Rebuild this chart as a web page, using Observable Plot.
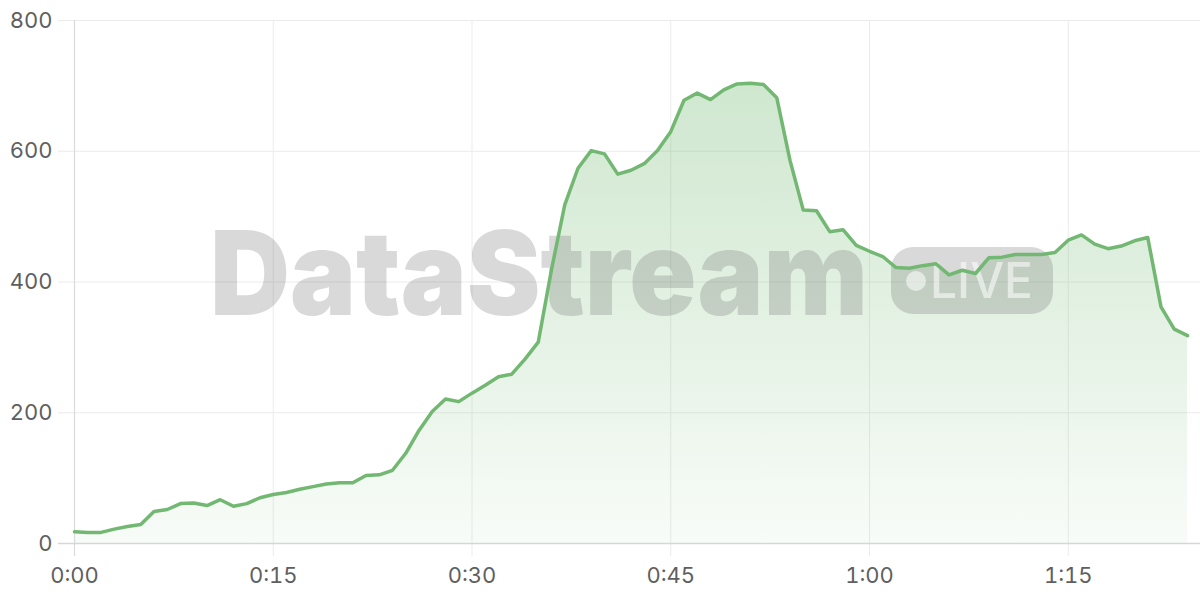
<!DOCTYPE html>
<html><head><meta charset="utf-8">
<script src="https://cdn.jsdelivr.net/npm/d3@7"></script>
<script src="https://cdn.jsdelivr.net/npm/@observablehq/plot@0.6"></script>
<style>
html,body{margin:0;padding:0;background:#fff;}
#chart{width:1200px;height:600px;}
</style></head><body><div id="chart"></div>
<script>
const minutes = [0,1,2,3,4,5,6,7,8,9,10,11,12,13,14,15,16,17,18,19,20,21,22,23,24,25,26,27,28,29,30,31,32,33,34,35,36,37,38,39,40,41,42,43,44,45,46,47,48,49,50,51,52,53,54,55,56,57,58,59,60,61,62,63,64,65,66,67,68,69,70,71,72,73,74,75,76,77,78,79,80,81,82,83,84];
const viewers = [18,17,17,22,26,29,49,52,61,62,58,67,57,61,70,75,78,83,87,91,93,93,104,105,112,138,173,202,221,217,230,242,255,259,282,308,419,518,574,601,596,565,571,581,601,630,678,689,679,694,703,704,702,682,586,510,509,477,480,456,447,439,422,421,425,428,411,418,413,437,438,442,442,442,445,464,472,458,451,455,463,468,362,328,318];
const xTicks = [0,15,30,45,60,75];
const xTickLabels = ["0:00","0:15","0:30","0:45","1:00","1:15"];
const yTicks = [0,200,400,600,800];
const watermarkTitle = "DataStream";
const watermarkBadge = "LIVE";

const data = minutes.map((m,i)=>({m, v: viewers[i]}));
const NS = "http://www.w3.org/2000/svg";
const el = (tag, attrs) => { const e = document.createElementNS(NS, tag); for (const k in attrs) e.setAttribute(k, attrs[k]); return e; };

const gradientDefs = () => {
  const defs = el("defs", {});
  const lg = el("linearGradient", {id:"areaGrad", x1:"0", y1:"0", x2:"0", y2:"1"});
  lg.appendChild(el("stop", {offset:"0", "stop-color":"rgb(114,184,114)", "stop-opacity":"0.34"}));
  lg.appendChild(el("stop", {offset:"1", "stop-color":"rgb(114,184,114)", "stop-opacity":"0.05"}));
  defs.appendChild(lg);
  return defs;
};

const watermark = (index, scales, values, dim) => {
  const cx = dim.marginLeft + (dim.width - dim.marginLeft - dim.marginRight) / 2;
  const cy = dim.marginTop + (dim.height - dim.marginTop - dim.marginBottom) / 2;
  const g = el("g", {transform:`translate(${cx},${cy})`, "pointer-events":"none", "text-anchor":"start"});
  const t = el("text", {x:-420.5, y:33.5, "text-anchor":"start", "font-family":"Inter, sans-serif", "font-weight":"900", "font-size":"117", fill:"rgb(110,110,110)", "fill-opacity":"0.26", textLength:"658", lengthAdjust:"spacingAndGlyphs"});
  t.textContent = watermarkTitle;
  g.appendChild(t);
  g.appendChild(el("rect", {x:260.5, y:-34.5, width:162, height:67, rx:22, fill:"rgb(110,110,110)", "fill-opacity":"0.26"}));
  g.appendChild(el("circle", {cx:285.5, cy:-0.5, r:10, fill:"#fff", "fill-opacity":"0.55"}));
  const l = el("text", {x:299.5, y:16.5, "text-anchor":"start", "font-family":"Inter, sans-serif", "font-weight":"500", "font-size":"50", fill:"#fff", "fill-opacity":"0.55", textLength:"103", lengthAdjust:"spacingAndGlyphs"});
  l.textContent = watermarkBadge;
  g.appendChild(l);
  return g;
};

const chart = Plot.plot({
  width: 1200, height: 600,
  marginTop: 20, marginBottom: 57, marginLeft: 74, marginRight: 13,
  style: {fontFamily: "Inter, sans-serif", background: "#fff", overflow: "visible"},
  x: {domain: [0, 84]},
  y: {domain: [0, 800]},
  marks: [
    gradientDefs,
    Plot.ruleY(yTicks.filter(d=>d!==0), {stroke:"#ebebeb", strokeWidth:1, insetLeft:-16, insetRight:-13}),
    Plot.ruleX(xTicks.filter(d=>d!==0), {stroke:"#ebebeb", strokeWidth:1, insetBottom:-13}),
    Plot.areaY(data, {x:"m", y:"v", fill:"url(#areaGrad)"}),
    watermark,
    Plot.ruleX([0], {stroke:"#dadada", strokeWidth:1.2, insetBottom:-13}),
    Plot.ruleY([0], {stroke:"#d6d6d6", strokeWidth:1.5, insetLeft:-16, insetRight:-13}),
    Plot.lineY(data, {x:"m", y:"v", stroke:"rgb(114,184,114)", strokeWidth:3.5, strokeLinejoin:"round", strokeLinecap:"round"}),
    Plot.axisX({ticks: xTicks, tickFormat: d => xTickLabels[xTicks.indexOf(d)], tickSize: 0, tickPadding: 24, fontSize: 22, fill: "#5f5f5f", label: null}),
    Plot.axisY({ticks: yTicks, tickSize: 0, tickPadding: 22, fontSize: 22, fill: "#5f5f5f", label: null})
  ]
});
document.getElementById("chart").appendChild(chart);
</script>
</body></html>
